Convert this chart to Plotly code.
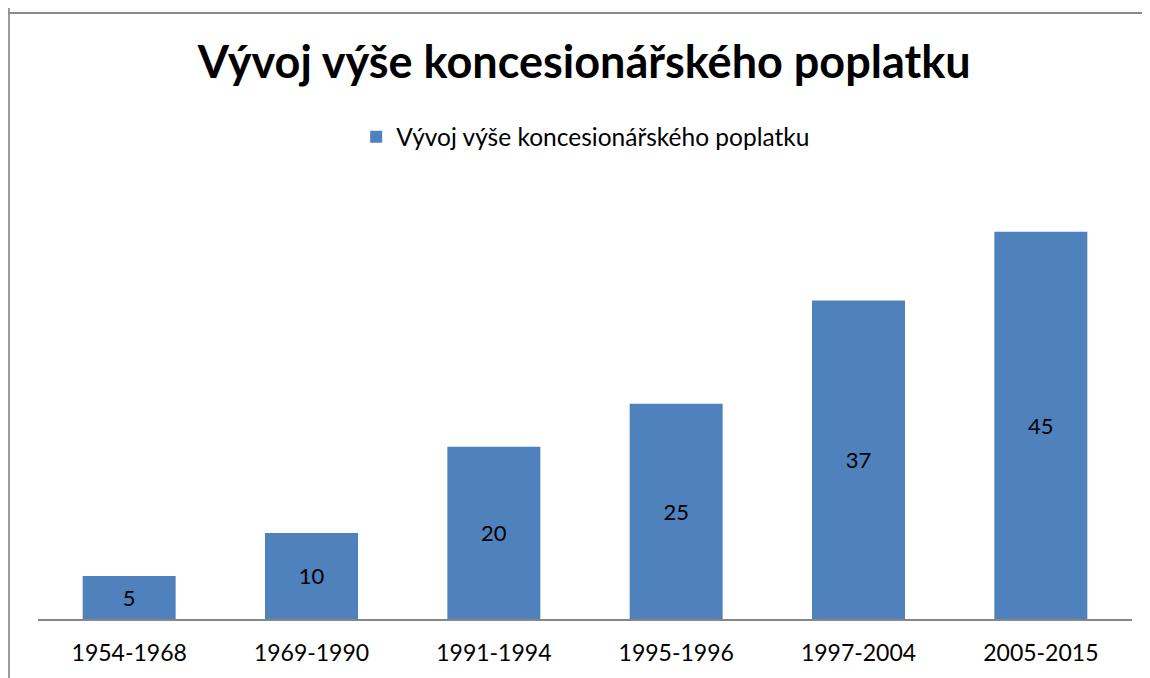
import plotly.graph_objects as go

categories = ["1954-1968", "1969-1990", "1991-1994", "1995-1996", "1997-2004", "2005-2015"]
values = [5, 10, 20, 25, 37, 45]
series_name = "Vývoj výše koncesionářského poplatku"
title_text = "Vývoj výše koncesionářského poplatku"

FONT = "Lato, Carlito, Calibri, sans-serif"

# plot area geometry (figure pixels)
L, R, T, B = 30, 26, 172, 67
W, H = 1150, 678
pw, ph = W - L - R, H - T - B

fig = go.Figure()
fig.add_trace(go.Bar(
    x=categories, y=values, name=series_name,
    marker=dict(color="#4F81BD", line=dict(width=0)),
    width=0.51,
    text=[str(v) for v in values],
    textposition="inside", insidetextanchor="middle",
    textfont=dict(family=FONT, size=22, color="#000000"),
    showlegend=True,
))

fig.update_layout(
    width=W, height=H,
    paper_bgcolor="white", plot_bgcolor="white",
    margin=dict(l=L, r=R, t=T, b=B),
    title=dict(text="<b>" + title_text + "</b>", x=0.501, xanchor="center",
               y=0.9196, yanchor="middle",
               font=dict(family=FONT, size=45, color="#000000")),
    legend=dict(orientation="h", x=0.5006, xanchor="center", y=0.81, yanchor="middle",
                yref="container",
                font=dict(family=FONT, size=24.5, color="#000000"),
                bgcolor="rgba(0,0,0,0)"),
    xaxis=dict(showgrid=False, showline=True, linecolor="#868686", linewidth=2,
               ticks="", ticklabelstandoff=12,
               tickfont=dict(family=FONT, size=23, color="#000000"),
               fixedrange=True),
    yaxis=dict(range=[0, 51], visible=False, showgrid=False, zeroline=False),
)

# chart-area border lines (left and top)
fig.add_shape(type="line", xref="paper", yref="paper",
              x0=(1 - L) / pw, x1=(1 - L) / pw,
              y0=-(B + 5) / ph, y1=(H - 5 - T) / ph + T / ph,
              line=dict(color="#9a9a9a", width=2))
fig.add_shape(type="line", xref="paper", yref="paper",
              x0=(0 - L) / pw, x1=(W + 10 - L) / pw,
              y0=(H - B - 5) / ph, y1=(H - B - 5) / ph,
              line=dict(color="#8a8a8a", width=2))

fig.write_html("out.html")
